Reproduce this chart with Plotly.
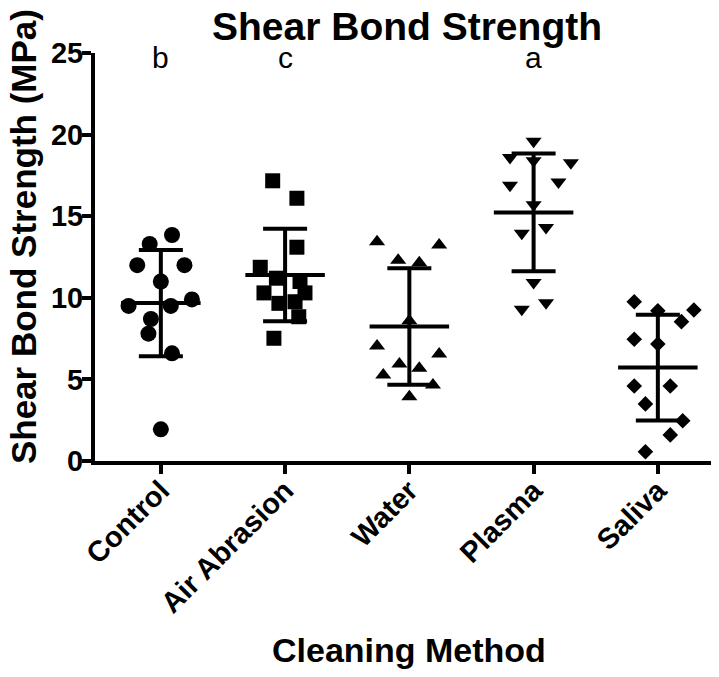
import numpy as np
import plotly.graph_objects as go

categories = ["Control", "Air Abrasion", "Water", "Plasma", "Saliva"]
group_letters = ["b", "c", "", "a", ""]

control = [13.85, 13.3, 12.0, 12.0, 11.0, 9.5, 9.5, 9.9, 8.7, 7.8, 6.6, 1.94]
air_abrasion = [17.17, 16.1, 13.1, 11.87, 11.2, 11.0, 10.3, 10.3, 9.66, 9.76, 8.84, 7.52]
water = [13.44, 13.24, 12.3, 12.15, 8.6, 7.05, 6.56, 5.94, 5.68, 5.27, 4.66, 3.94]
plasma = [19.6, 18.6, 18.4, 18.28, 17.1, 16.9, 15.7, 14.3, 13.95, 10.93, 9.7, 9.3]
saliva = [9.76, 9.25, 9.2, 8.54, 7.46, 7.17, 4.6, 4.6, 3.5, 2.47, 1.6, 0.57]

# horizontal spread of the points within each column (category units)
control_spread = [0.09, -0.09, -0.19, 0.19, 0.0, -0.26, 0.08, 0.25, -0.08, -0.10, 0.09, 0.0]
air_spread = [-0.10, 0.095, 0.095, -0.20, -0.07, 0.12, -0.17, 0.16, -0.05, 0.08, 0.11, -0.09]
water_spread = [-0.26, 0.24, -0.09, 0.08, 0.0, -0.26, 0.24, -0.08, 0.08, -0.21, 0.19, 0.0]
plasma_spread = [0.0, -0.19, 0.0, 0.30, 0.20, -0.19, 0.0, 0.10, -0.095, 0.0, 0.10, -0.095]
saliva_spread = [-0.19, 0.29, 0.0, 0.19, -0.19, 0.0, -0.19, 0.10, -0.10, 0.20, 0.10, -0.10]

groups = [control, air_abrasion, water, plasma, saliva]
spreads = [control_spread, air_spread, water_spread, plasma_spread, saliva_spread]
symbols = ["circle", "square", "triangle-up", "triangle-down", "diamond"]
sizes = [16, 15, 14, 14, 12]

FONT = "Arial, Liberation Sans, sans-serif"

fig = go.Figure()
for i, (vals, sp, sym, sz) in enumerate(zip(groups, spreads, symbols, sizes)):
    v = np.array(vals)
    x = i + np.array(sp)
    fig.add_trace(go.Scatter(x=x, y=v, mode="markers",
                             marker=dict(symbol=sym, size=sz, color="black", line=dict(width=0)),
                             cliponaxis=False, showlegend=False, hoverinfo="y"))
    m = v.mean()
    s = v.std(ddof=1)
    fig.add_trace(go.Scatter(x=[i], y=[m], mode="markers", marker=dict(size=0.1, color="black"),
                             error_y=dict(type="data", array=[s], visible=True, thickness=4,
                                          width=22, color="black"),
                             cliponaxis=False, showlegend=False, hoverinfo="skip"))
    fig.add_trace(go.Scatter(x=[i - 0.32, i + 0.32], y=[m, m], mode="lines",
                             line=dict(color="black", width=4),
                             cliponaxis=False, showlegend=False, hoverinfo="skip"))

for i, lt in enumerate(group_letters):
    if lt:
        fig.add_annotation(x=i, y=24.75, xref="x", yref="y", text=lt, showarrow=False,
                           font=dict(family=FONT, size=30, color="black"),
                           xanchor="center", yanchor="middle")

fig.add_annotation(x=0.504, y=1.066, xref="paper", yref="paper", text="<b>Shear Bond Strength</b>",
                   showarrow=False, font=dict(family=FONT, size=39, color="black"),
                   xanchor="center", yanchor="middle")
fig.add_annotation(x=-0.116, y=0.549, xref="paper", yref="paper",
                   text="<b>Shear Bond Strength (MPa)</b>", textangle=-90, showarrow=False,
                   font=dict(family=FONT, size=35, color="black"),
                   xanchor="center", yanchor="middle")
fig.add_annotation(x=0.506, y=-0.463, xref="paper", yref="paper", text="<b>Cleaning Method</b>",
                   showarrow=False, font=dict(family=FONT, size=34, color="black"),
                   xanchor="center", yanchor="middle")

fig.update_layout(
    width=711, height=669,
    margin=dict(l=87, r=4, t=45, b=216),
    plot_bgcolor="white", paper_bgcolor="white",
    xaxis=dict(range=[-0.53, 4.46], tickmode="array", tickvals=list(range(5)),
               ticktext=["<b>%s</b>" % c for c in categories], tickangle=-45,
               showline=True, linecolor="black", linewidth=4, ticks="outside",
               ticklen=9, tickwidth=4, tickcolor="black", showgrid=False, zeroline=False,
               tickfont=dict(family=FONT, size=29, color="black"), automargin=False,
               ticklabelstandoff=-12),
    yaxis=dict(range=[0, 25], tickvals=[0, 5, 10, 15, 20, 25],
               ticktext=["<b>%d</b>" % t for t in [0, 5, 10, 15, 20, 25]],
               showline=True, linecolor="black", linewidth=4, ticks="outside",
               ticklen=9, tickwidth=4, tickcolor="black", showgrid=False, zeroline=False,
               tickfont=dict(family=FONT, size=29, color="black"), automargin=False,
               ticklabelstandoff=-7),
)

fig.write_html("out.html")
